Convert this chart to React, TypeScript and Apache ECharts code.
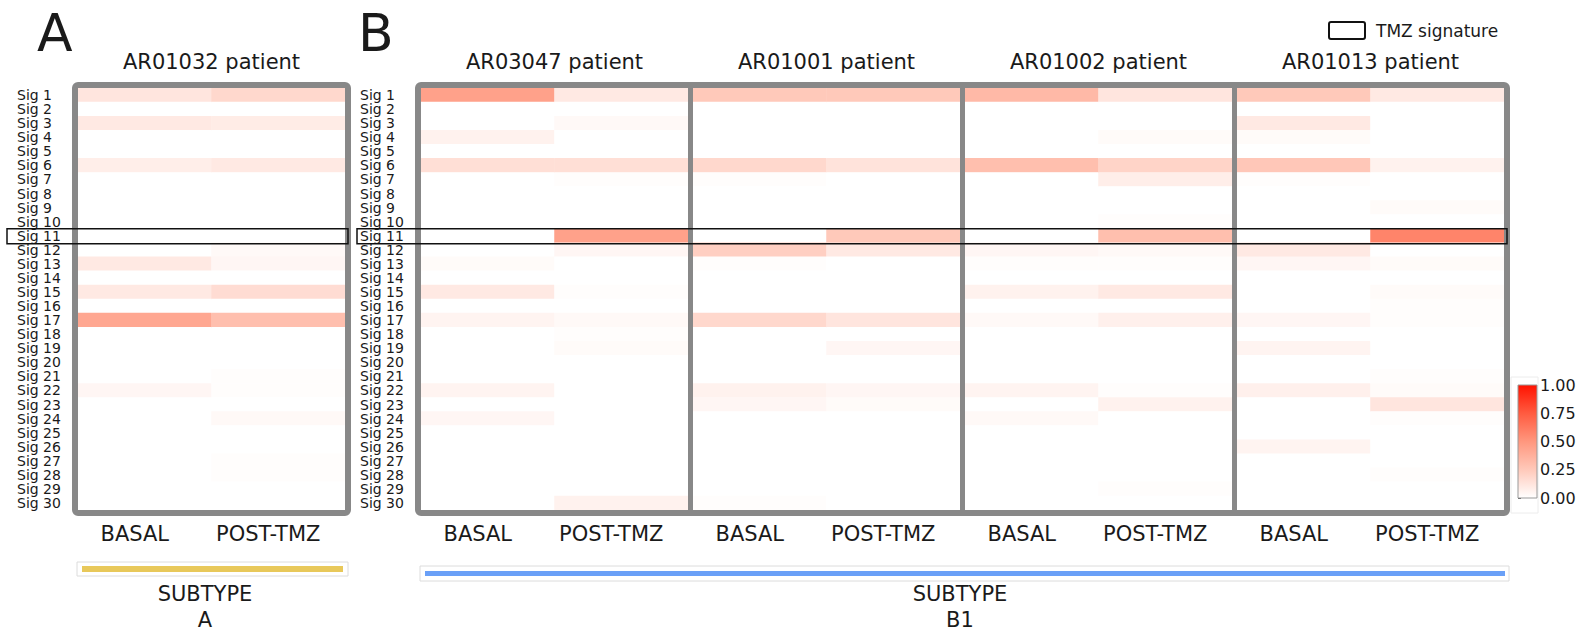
import React, { useEffect, useRef } from "react";
import * as echarts from "echarts";

// rows and columns
const SIGS = Array.from({ length: 30 }, (_, i) => `Sig ${i + 1}`);
const COLUMNS = ["BASAL", "POST-TMZ"];
const PATIENTS = ["AR01032", "AR03047", "AR01001", "AR01002", "AR01013"];

// signature contributions (Sig 1 .. Sig 30)
const AR01032_BASAL = [0.12, 0, 0.1, 0, 0, 0.08, 0, 0, 0, 0, 0, 0, 0.1, 0, 0.1, 0, 0.42, 0, 0, 0, 0, 0.04, 0, 0, 0, 0, 0, 0, 0, 0];
const AR01032_POST = [0.18, 0, 0.09, 0, 0, 0.1, 0, 0, 0, 0, 0, 0.03, 0.04, 0, 0.16, 0, 0.3, 0, 0, 0, 0.01, 0.01, 0, 0.03, 0, 0, 0.01, 0.01, 0, 0];
const AR03047_BASAL = [0.45, 0, 0, 0.06, 0, 0.15, 0, 0, 0, 0, 0, 0, 0.02, 0, 0.1, 0, 0.05, 0, 0, 0, 0, 0.05, 0, 0.04, 0, 0, 0, 0, 0, 0];
const AR03047_POST = [0.1, 0, 0.03, 0, 0, 0.15, 0.01, 0, 0, 0, 0.45, 0.04, 0, 0, 0.01, 0, 0.03, 0.01, 0.02, 0, 0, 0, 0, 0, 0, 0, 0, 0, 0, 0.06];
const AR01001_BASAL = [0.25, 0, 0, 0, 0, 0.18, 0.01, 0, 0, 0, 0, 0.22, 0.01, 0, 0, 0, 0.18, 0, 0, 0, 0, 0.06, 0.04, 0, 0, 0, 0, 0, 0, 0.01];
const AR01001_POST = [0.25, 0, 0, 0, 0, 0.13, 0, 0, 0, 0, 0.25, 0.1, 0, 0, 0, 0, 0.12, 0, 0.04, 0, 0, 0.04, 0.02, 0, 0, 0, 0, 0, 0, 0];
const AR01002_BASAL = [0.33, 0, 0, 0, 0, 0.3, 0, 0, 0, 0, 0, 0.04, 0.01, 0, 0.06, 0, 0.03, 0, 0, 0, 0, 0.05, 0, 0.03, 0, 0, 0, 0, 0, 0];
const AR01002_POST = [0.12, 0, 0, 0.02, 0, 0.2, 0.08, 0, 0, 0.01, 0.3, 0.03, 0.01, 0, 0.1, 0, 0.07, 0, 0, 0, 0, 0.01, 0.06, 0, 0, 0, 0, 0, 0.01, 0];
const AR01013_BASAL = [0.25, 0, 0.1, 0.02, 0, 0.26, 0.01, 0, 0, 0, 0, 0.1, 0.04, 0, 0, 0, 0.04, 0, 0.05, 0, 0, 0.07, 0, 0, 0, 0.05, 0, 0, 0, 0];
const AR01013_POST = [0.1, 0, 0, 0, 0, 0.06, 0, 0, 0.02, 0, 0.58, 0, 0.02, 0, 0.02, 0.01, 0.01, 0, 0, 0, 0.01, 0.02, 0.12, 0.01, 0, 0, 0, 0.01, 0, 0];

const PATIENT_DATA = [
  [AR01032_BASAL, AR01032_POST],
  [AR03047_BASAL, AR03047_POST],
  [AR01001_BASAL, AR01001_POST],
  [AR01002_BASAL, AR01002_POST],
  [AR01013_BASAL, AR01013_POST],
];

const TMZ_SIG = "Sig 11";
const COLORBAR_TICKS = [0, 0.25, 0.5, 0.75, 1];
const SCALE_COLORS = ["#ffffff", "#ffc9ba", "#ff977e", "#ff5b40", "#ff1200"];

// layout
const TOP = 88;
const H = 422;
const CW = 267;
const LEFTS = [78, 421, 693, 965, 1237];
const CB = { left: 1518, top: 385, width: 19, height: 113 };
const FONT = "DejaVu Sans";
const INK = "#1a1a1a";

const text = (t: string, x: number, y: number, size: number, align = "center") => ({
  type: "text",
  z: 100,
  x,
  y,
  style: {
    text: t,
    fill: INK,
    fontSize: size,
    fontFamily: FONT,
    align,
    verticalAlign: "middle",
    textAlign: align,
    textVerticalAlign: "middle",
  },
});

const App: React.FC = () => {
  const chartRef = useRef<HTMLDivElement>(null);

  useEffect(() => {
    if (!chartRef.current) return;
    const chart = echarts.init(chartRef.current, null, { renderer: "svg" });

    const rowH = H / SIGS.length;
    const boxY = TOP + SIGS.indexOf(TMZ_SIG) * rowH;
    const bRight = LEFTS[4] + CW;

    const grids: any[] = LEFTS.map((l) => ({ left: l, top: TOP, width: CW, height: H, show: false }));
    grids.push({ ...CB, show: false });

    const xAxes: any[] = LEFTS.map((_, i) => ({
      type: "category",
      gridIndex: i,
      data: COLUMNS,
      position: "bottom",
      axisLine: { show: false },
      axisTick: { show: false },
      splitLine: { show: false },
      axisLabel: {
        interval: 0,
        hideOverlap: false,
        fontSize: 21,
        color: INK,
        fontFamily: FONT,
        margin: 13,
        padding: [0, 20, 0, 0],
      },
    }));
    xAxes.push({ type: "value", gridIndex: 5, show: false, min: 0, max: 1 });

    const yAxes: any[] = LEFTS.map((_, i) => ({
      type: "category",
      gridIndex: i,
      data: SIGS,
      inverse: true,
      axisLine: { show: false },
      axisTick: { show: false },
      splitLine: { show: false },
      axisLabel: {
        show: i < 2,
        interval: 0,
        fontSize: 14,
        lineHeight: 14,
        color: INK,
        fontFamily: FONT,
        align: "left",
        margin: 61,
        padding: [0, 0, 2, 0],
      },
    }));
    yAxes.push({
      type: "value",
      gridIndex: 5,
      min: 0,
      max: 1,
      interval: 0.25,
      position: "right",
      axisLine: { show: false },
      axisTick: { show: true, length: 3, lineStyle: { color: "#555" } },
      splitLine: { show: false },
      axisLabel: {
        fontSize: 16,
        color: INK,
        fontFamily: FONT,
        margin: 3,
        customValues: COLORBAR_TICKS,
        formatter: (v: number) => v.toFixed(2),
      },
    });

    const series: any[] = PATIENT_DATA.map((cols, i) => ({
      name: PATIENTS[i],
      type: "heatmap",
      xAxisIndex: i,
      yAxisIndex: i,
      data: cols.flatMap((vals, c) => vals.map((v, r) => [c, r, v])),
      itemStyle: { borderWidth: 0 },
      emphasis: { disabled: true },
    }));

    const graphic: any[] = [
      // panel frames
      {
        type: "rect", z: 100,
        shape: { x: LEFTS[0] - 3, y: TOP - 3, width: CW + 6, height: H + 6, r: 3 },
        style: { fill: "none", stroke: "#888", lineWidth: 6 },
      },
      {
        type: "rect", z: 100,
        shape: { x: LEFTS[1] - 3, y: TOP - 3, width: bRight - LEFTS[1] + 6, height: H + 6, r: 3 },
        style: { fill: "none", stroke: "#888", lineWidth: 6 },
      },
      ...LEFTS.slice(2).map((l) => ({
        type: "line", z: 100,
        shape: { x1: l - 2.5, y1: TOP - 3, x2: l - 2.5, y2: TOP + H + 3 },
        style: { stroke: "#888", lineWidth: 5 },
      })),
      // TMZ signature row
      {
        type: "rect", z: 101,
        shape: { x: 7, y: boxY, width: LEFTS[0] + CW + 3 - 7, height: rowH + 1 },
        style: { fill: "none", stroke: "#111", lineWidth: 1.5 },
      },
      {
        type: "rect", z: 101,
        shape: { x: 357, y: boxY, width: bRight + 3 - 357, height: rowH + 1 },
        style: { fill: "none", stroke: "#111", lineWidth: 1.5 },
      },
      // legend
      {
        type: "rect", z: 100,
        shape: { x: 1329, y: 22, width: 36, height: 17, r: 2 },
        style: { fill: "none", stroke: "#111", lineWidth: 2 },
      },
      text("TMZ signature", 1376, 31, 17, "left"),
      // panel letters and titles
      text("A", 37, 33, 52, "left"),
      text("B", 358, 33, 52, "left"),
      ...PATIENTS.map((p, i) => text(`${p} patient`, LEFTS[i] + CW / 2, 62, 21)),
      // colorbar
      {
        type: "rect", z: 1,
        shape: { x: 1511, y: 377, width: 27, height: 136 },
        style: { fill: "none", stroke: "#ececec", lineWidth: 1 },
      },
      {
        type: "rect", z: 100,
        shape: { x: CB.left, y: CB.top, width: CB.width, height: CB.height },
        style: {
          stroke: "#999",
          lineWidth: 1,
          fill: new echarts.graphic.LinearGradient(
            0, 0, 0, 1,
            SCALE_COLORS.map((c, i) => ({ offset: 1 - i / (SCALE_COLORS.length - 1), color: c }))
              .reverse()
          ),
        },
      },
      // subtype bars
      {
        type: "rect", z: 100,
        shape: { x: 77, y: 562, width: 271, height: 14 },
        style: { fill: "none", stroke: "#dcdcdc", lineWidth: 1 },
      },
      {
        type: "rect", z: 100,
        shape: { x: 82, y: 566, width: 261, height: 6 },
        style: { fill: "#e8c85a" },
      },
      {
        type: "rect", z: 100,
        shape: { x: 420, y: 566, width: 1089, height: 15 },
        style: { fill: "none", stroke: "#dcdcdc", lineWidth: 1 },
      },
      {
        type: "rect", z: 100,
        shape: { x: 425, y: 571, width: 1080, height: 5 },
        style: { fill: "#6aa0f7" },
      },
      text("SUBTYPE", 205, 594, 21),
      text("A", 205, 620, 21),
      text("SUBTYPE", 960, 594, 21),
      text("B1", 960, 620, 21),
    ];

    chart.setOption({
      animation: false,
      backgroundColor: "#ffffff",
      textStyle: { fontFamily: FONT },
      grid: grids,
      xAxis: xAxes,
      yAxis: yAxes,
      visualMap: {
        show: false,
        type: "continuous",
        min: 0,
        max: 1,
        seriesIndex: series.map((_, i) => i),
        inRange: { color: SCALE_COLORS },
      },
      series,
      graphic,
    });

    return () => chart.dispose();
  }, []);

  return (
    <div
      ref={chartRef}
      style={{ position: "absolute", left: 0, top: 0, width: "1584px", height: "631px", background: "#fff" }}
    />
  );
};

export default App;
